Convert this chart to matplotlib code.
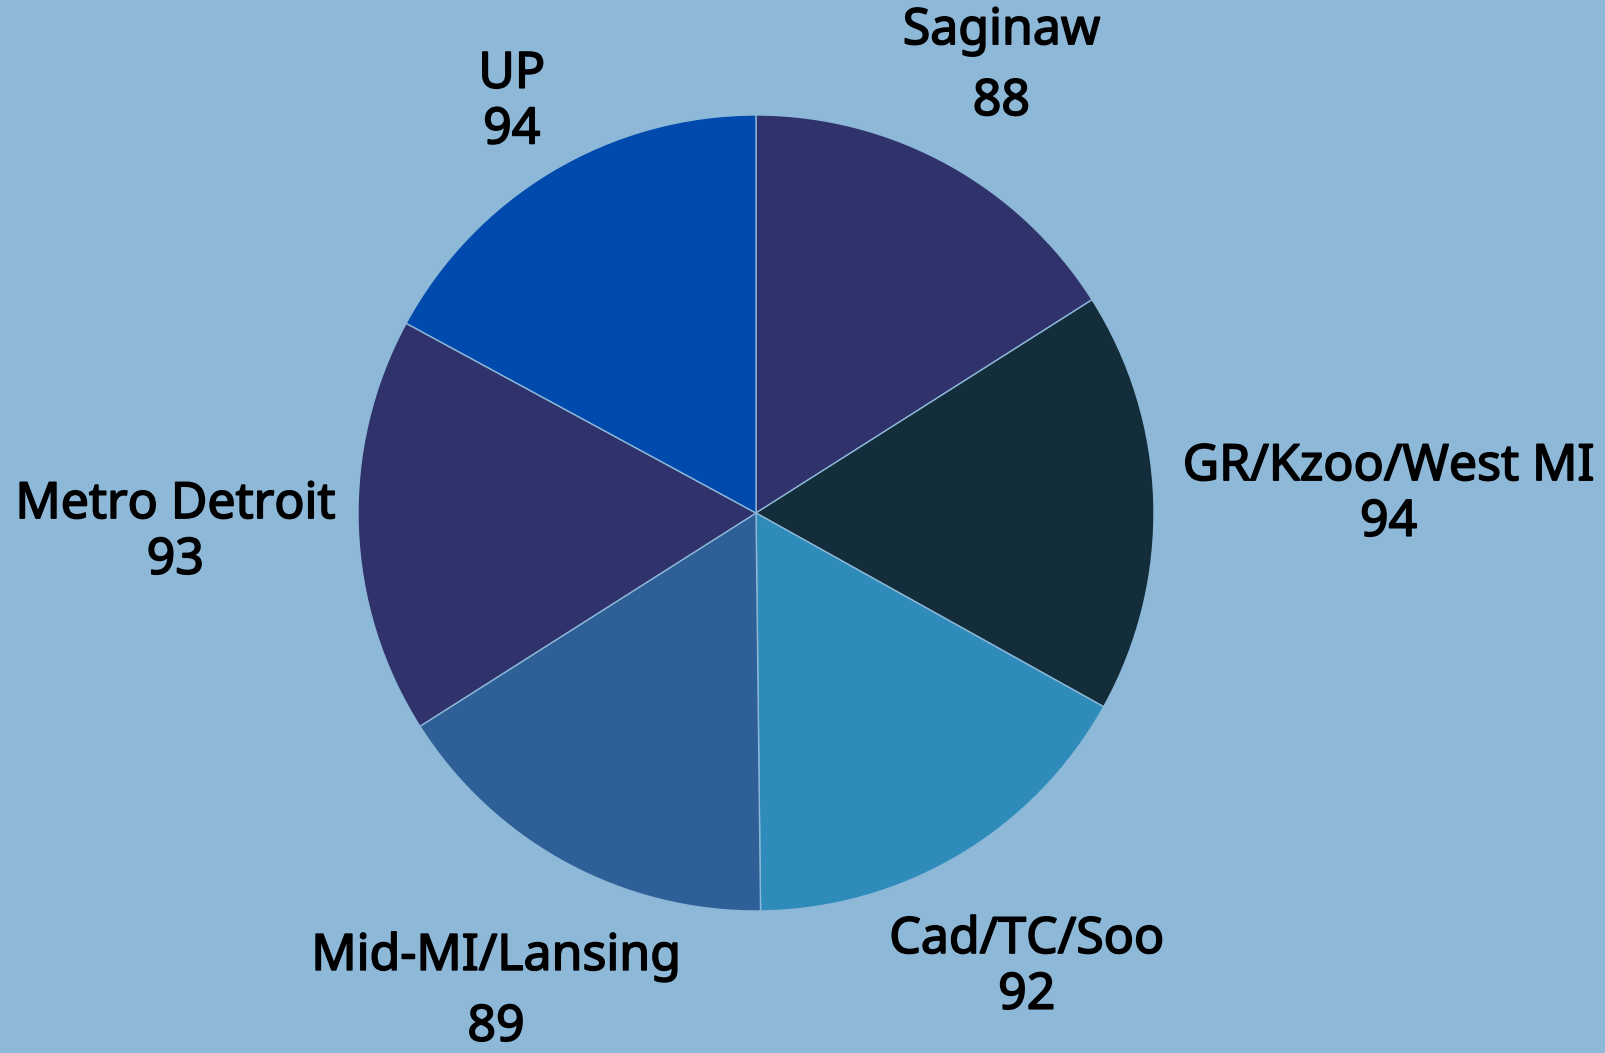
import numpy as np
import matplotlib.pyplot as plt
import matplotlib.patheffects as pe

# regions and their scores, clockwise from the top
regions = ['Saginaw', 'GR/Kzoo/West MI', 'Cad/TC/Soo', 'Mid-MI/Lansing',
           'Metro Detroit', 'UP']
scores = [88, 94, 92, 89, 93, 94]

colors = ['#30336b', '#132d3b', '#2e8bba', '#2e5f96', '#30336b', '#004aad']
bg = '#8db8d8'

# label distance from center (in radii) and line spacing per label
label_dist = [1.28, 1.59, 1.33, 1.37, 1.46, 1.20]
line_sp = [1.55, 1.15, 1.15, 1.55, 1.15, 1.15]

W, H = 1605, 1053
cx, cy, r = 756, H - 513, 398

fig = plt.figure(figsize=(W / 100, H / 100), dpi=100, facecolor=bg)
ax = fig.add_axes([0, 0, 1, 1])
ax.set_facecolor(bg)

wedges, _ = ax.pie(scores, colors=colors, startangle=90, counterclock=False,
                   radius=r, center=(cx, cy),
                   wedgeprops=dict(edgecolor=bg, linewidth=1))

for w, name, val, d, ls in zip(wedges, regions, scores, label_dist, line_sp):
    ang = np.deg2rad((w.theta1 + w.theta2) / 2)
    x = cx + d * r * np.cos(ang)
    y = cy + d * r * np.sin(ang)
    ax.text(x, y, f'{name}\n{val}', ha='center', va='center',
            multialignment='center', linespacing=ls,
            fontsize=36, fontfamily='Noto Sans', color='black',
            path_effects=[pe.withStroke(linewidth=1.2, foreground='black')])

ax.set_xlim(0, W)
ax.set_ylim(0, H)
ax.set_aspect('equal')
ax.axis('off')

fig.savefig('out.png', dpi=100, facecolor=bg)
